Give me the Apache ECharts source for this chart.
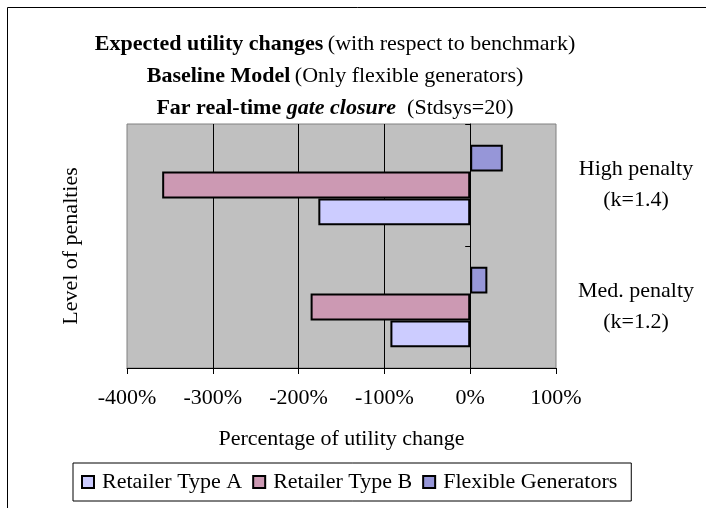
<!DOCTYPE html>
<html>
<head>
<meta charset="utf-8">
<script src="https://cdn.jsdelivr.net/npm/echarts@6/dist/echarts.min.js"></script>
<style>
  html, body { margin: 0; padding: 0; background: #ffffff; }
  #chart { width: 706px; height: 508px; }
</style>
</head>
<body>
<div id="chart"></div>
<script>
// level of penalties (bottom category first)
const categories = ['Med. penalty\n(k=1.2)', 'High penalty\n(k=1.4)'];
// percentage of utility change
const retailerA = [-93, -177];
const retailerB = [-186, -359];
const flexibleGen = [20, 38];
const seriesNames = ['Retailer Type A', 'Retailer Type B', 'Flexible Generators'];

const serif = "'Liberation Serif', 'Times New Roman', serif";
const fs = 22;

const chart = echarts.init(document.getElementById('chart'));

function barSeries(name, data, color) {
  return {
    name: name,
    type: 'bar',
    data: data,
    barGap: 0,
    barCategoryGap: '34%',
    itemStyle: { color: color, borderColor: '#000000', borderWidth: 2 }
  };
}

chart.setOption({
  animation: false,
  backgroundColor: '#ffffff',
  textStyle: { fontFamily: serif, color: '#000000' },
  graphic: [{
    type: 'rect',
    shape: { x: 7.5, y: 7.5, width: 760, height: 560 },
    style: { fill: 'none', stroke: '#000000', lineWidth: 1 },
    silent: true
  }],
  title: {
    left: 335,
    top: 28,
    padding: 0,
    textAlign: 'center',
    text: '{b|Expected utility changes} {n|(with respect to benchmark)}\n' +
          '{b|Baseline Model} {n|(Only flexible generators)}\n' +
          '{b|Far real-time }{bi|gate closure}{n|  (Stdsys=20)}',
    textStyle: {
      fontWeight: 'normal',
      rich: {
        b: { fontFamily: serif, fontSize: fs, fontWeight: 'bold', lineHeight: 32, color: '#000' },
        bi: { fontFamily: serif, fontSize: fs, fontWeight: 'bold', fontStyle: 'italic', lineHeight: 32, color: '#000' },
        n: { fontFamily: serif, fontSize: fs, fontWeight: 'normal', lineHeight: 32, color: '#000' }
      }
    }
  },
  legend: {
    data: seriesNames,
    left: 73,
    top: 463,
    padding: [8, 14, 8, 8],
    itemGap: 10,
    itemWidth: 12,
    itemHeight: 12,
    icon: 'rect',
    borderColor: '#000000',
    borderWidth: 1,
    itemStyle: { borderColor: '#000000', borderWidth: 2 },
    textStyle: { fontFamily: serif, fontSize: fs, color: '#000000', padding: [0, 0, 0, 3] }
  },
  grid: {
    left: 127,
    right: 150,
    top: 124,
    bottom: 140,
    show: true,
    backgroundColor: '#c0c0c0',
    borderColor: '#808080',
    borderWidth: 1
  },
  xAxis: {
    type: 'value',
    min: -400,
    max: 100,
    interval: 100,
    name: 'Percentage of utility change',
    nameLocation: 'middle',
    nameGap: 60,
    nameTextStyle: { fontFamily: serif, fontSize: fs, color: '#000000' },
    axisLine: { show: true, onZero: false, lineStyle: { color: '#000000', width: 1 } },
    axisTick: { show: true, length: 6, lineStyle: { color: '#000000' } },
    axisLabel: { formatter: '{value}%', margin: 19, fontFamily: serif, fontSize: fs, color: '#000000' },
    splitLine: { show: true, showMinLine: false, showMaxLine: false, lineStyle: { color: '#000000', width: 1 } }
  },
  yAxis: [{
    type: 'category',
    data: categories,
    position: 'right',
    axisLine: { show: false, onZero: false },
    axisTick: { show: false },
    splitLine: { show: false },
    axisLabel: {
      margin: 80,
      align: 'center',
      fontFamily: serif,
      fontSize: fs,
      lineHeight: 31,
      color: '#000000'
    }
  }, {
    type: 'category',
    data: categories,
    position: 'left',
    axisLine: { show: true, onZero: true, onZeroAxisIndex: 0, lineStyle: { color: '#000000', width: 1 } },
    axisTick: { show: true, length: 5, lineStyle: { color: '#000000' } },
    axisLabel: { show: false },
    splitLine: { show: false }
  }, {
    type: 'category',
    data: categories,
    position: 'left',
    name: 'Level of penalties',
    nameLocation: 'middle',
    nameGap: 45,
    nameRotate: 90,
    nameTextStyle: { fontFamily: serif, fontSize: fs, color: '#000000' },
    axisLine: { show: false, onZero: false },
    axisTick: { show: false },
    axisLabel: { show: false },
    splitLine: { show: false }
  }],
  // series listed top-to-bottom within each band; legend keeps A, B, Flexible order
  series: [
    barSeries(seriesNames[2], flexibleGen, '#9696d8'),
    barSeries(seriesNames[1], retailerB, '#cc99b3'),
    barSeries(seriesNames[0], retailerA, '#ccccff')
  ]
});
</script>
</body>
</html>
